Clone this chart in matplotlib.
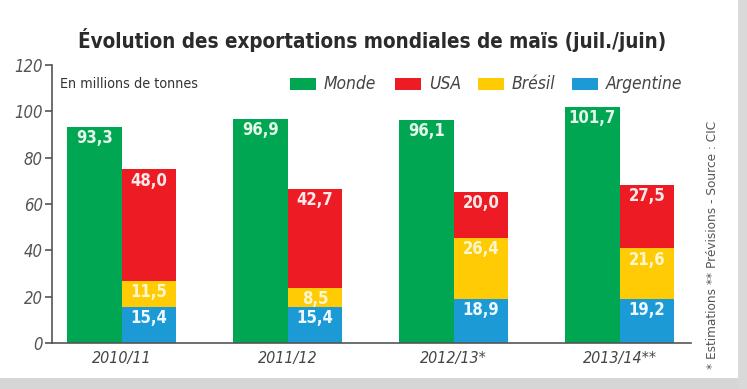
import matplotlib
matplotlib.use("Agg")
import matplotlib.pyplot as plt
from matplotlib import font_manager
import numpy as np
from matplotlib.patches import Rectangle

categories = ["2010/11", "2011/12", "2012/13*", "2013/14**"]
monde = [93.3, 96.9, 96.1, 101.7]
usa = [48.0, 42.7, 20.0, 27.5]
bresil = [11.5, 8.5, 26.4, 21.6]
argentine = [15.4, 15.4, 18.9, 19.2]
yticks = [0, 20, 40, 60, 80, 100, 120]

GREEN = "#00a651"
RED = "#ed1c24"
YELLOW = "#ffcb05"
BLUE = "#1b9ad6"

# prefer a condensed face if one is installed
cond = font_manager.findfont(font_manager.FontProperties(family="DejaVu Sans", stretch="condensed"))
if "Condensed" in cond:
    FONT = ["DejaVu Sans"]
    STRETCH = "condensed"
    K = 1.0
else:
    FONT = ["Lato", "DejaVu Sans"]
    STRETCH = "normal"
    K = 1.0
plt.rcParams["font.family"] = FONT
plt.rcParams["font.stretch"] = STRETCH

fig = plt.figure(figsize=(7.47, 3.89), dpi=100)
fig.patch.set_facecolor("white")
fig.add_artist(Rectangle((0, 0), 1, 11 / 389, transform=fig.transFigure,
                         facecolor="#d6d6d6", edgecolor="none", zorder=0))
fig.add_artist(Rectangle((738 / 747, 0), 9 / 747, 1, transform=fig.transFigure,
                         facecolor="#d9d9d9", edgecolor="none", zorder=0))

ax = fig.add_axes([52 / 747, 1 - 343 / 389, (691 - 52) / 747, (343 - 65) / 389])
ax.set_facecolor("none")

x = np.arange(len(categories))
w = 0.33

ax.bar(x - w / 2, monde, w, color=GREEN, label="Monde", zorder=2)
ax.bar(x + w / 2, argentine, w, color=BLUE, label="Argentine", zorder=2)
bot_b = np.array(argentine)
ax.bar(x + w / 2, bresil, w, bottom=bot_b, color=YELLOW, label="Brésil", zorder=2)
bot_u = bot_b + np.array(bresil)
ax.bar(x + w / 2, usa, w, bottom=bot_u, color=RED, label="USA", zorder=2)

def lab(xs, tops, vals, color):
    for xi, t, v in zip(xs, tops, vals):
        ax.annotate(f"{v:.1f}".replace(".", ","), (xi, t), xytext=(0, -1.5),
                    textcoords="offset points", ha="center", va="top",
                    fontsize=12 * K, fontweight="bold", color=color, zorder=3)

lab(x - w / 2, monde, monde, "#e4f7ea")
lab(x + w / 2, bot_u + np.array(usa), usa, "#fde9ea")
lab(x + w / 2, bot_u, bresil, "#fff6d0")
lab(x + w / 2, bot_b, argentine, "#eef8ff")

ax.set_xlim(-0.42, 3.43)
ax.set_ylim(0, 120)
ax.set_yticks(yticks)
ax.set_yticklabels([str(t) for t in yticks])
ax.set_xticks(x)
ax.set_xticklabels(categories)
for s in ["top", "right"]:
    ax.spines[s].set_visible(False)
for s in ["left", "bottom"]:
    ax.spines[s].set_color("#555555")
    ax.spines[s].set_linewidth(1.2)
ax.tick_params(axis="y", direction="out", length=5, width=1.2, color="#555555",
               labelsize=12 * K, labelcolor="#555555", pad=1.5)
ax.tick_params(axis="x", direction="in", length=4, width=1.2, color="#333333",
               labelsize=11.5 * K, labelcolor="#444444", pad=6)
for t in ax.get_yticklabels() + ax.get_xticklabels():
    t.set_fontstyle("italic")

fig.text(372 / 747, 1 - 40 / 389,
         "Évolution des exportations mondiales de maïs (juil./juin)",
         ha="center", va="center", fontsize=14.8 * K, fontweight="bold", color="#2b2b2b")

fig.text(60 / 747, 1 - 84 / 389, "En millions de tonnes", ha="left", va="center",
         fontsize=10.3 * K, color="#333333")

leg_items = [("Monde", GREEN, 290), ("USA", RED, 395), ("Brésil", YELLOW, 478),
             ("Argentine", BLUE, 572)]
for name, col, px in leg_items:
    fig.add_artist(Rectangle((px / 747, 1 - 90 / 389), 26 / 747, 12 / 389,
                             transform=fig.transFigure, facecolor=col,
                             edgecolor="none"))
    fig.text((px + 34) / 747, 1 - 84 / 389, name, ha="left", va="center",
             fontsize=12.5 * K, fontstyle="italic", color="#444444")

fig.text(712 / 747, 1 - 245 / 389, "* Estimations ** Prévisions - Source : CIC",
         rotation=90, ha="center", va="center", fontsize=9.7 * K, color="#555555")

fig.savefig("out.png", dpi=100)
